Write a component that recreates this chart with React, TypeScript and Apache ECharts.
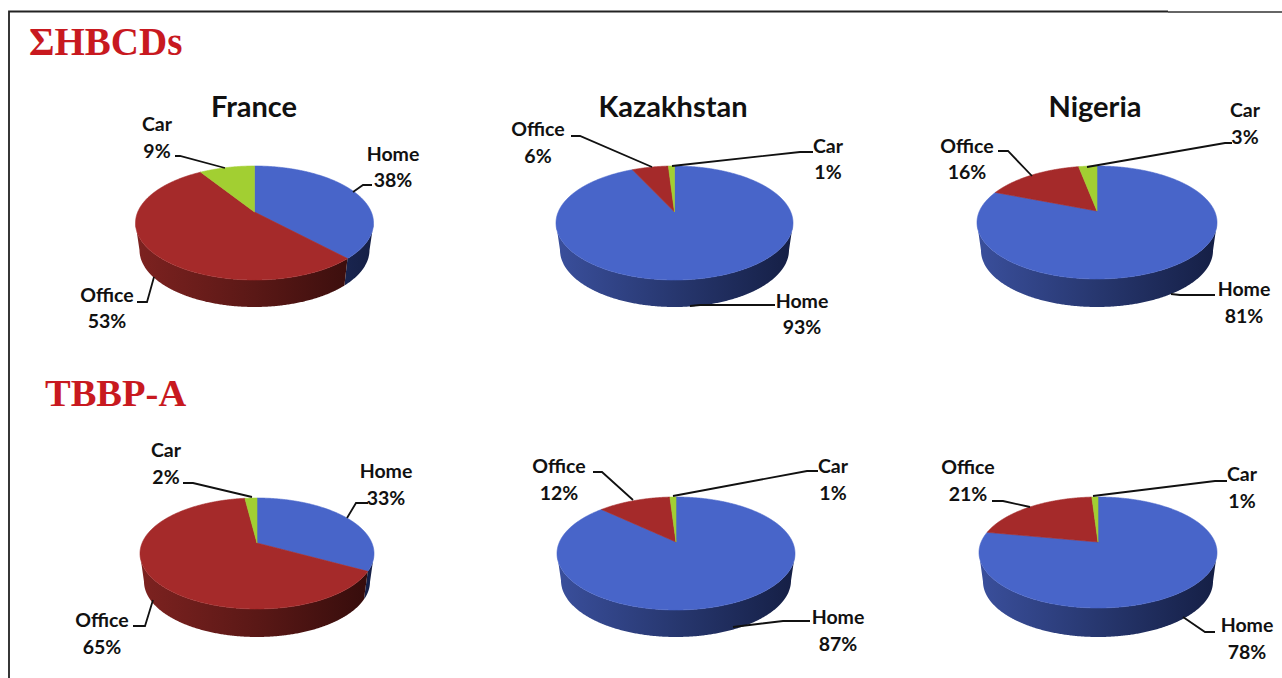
import React, { useEffect, useRef } from "react";
import * as echarts from "echarts";

const WIDTH = 1282;
const HEIGHT = 678;

const sources = ["Home", "Office", "Car"];
const franceHbcd = [38, 53, 9];
const kazakhstanHbcd = [93, 6, 1];
const nigeriaHbcd = [81, 16, 3];
const franceTbbp = [33, 65, 2];
const kazakhstanTbbp = [87, 12, 1];
const nigeriaTbbp = [78, 21, 1];
const countries = ["France", "Kazakhstan", "Nigeria"];
const groupTitles = ["ΣHBCDs", "TBBP-A"];

const TOP_COLORS = ["#4865c9", "#a52a2a", "#a2cf32"];
const SIDE_STOPS = [
  ["#3a4f9c", "#27376f", "#151f45"],
  ["#7d2220", "#5a1816", "#340c0b"],
  ["#6d8a22", "#50661a", "#324010"],
];

type Pie = {
  values: number[];
  cx: number; rx: number; top: number; bottom: number; tipY: number; sideBottom: number;
  labels: { x: number; y: number; line: number[][] }[];
};

const pies: Pie[] = [
  {
    values: franceHbcd, cx: 254.5, rx: 119, top: 166, bottom: 280, tipY: 212, sideBottom: 307,
    labels: [
      { x: 393, y: 166.5, line: [[372, 185], [363, 185], [353, 192]] },
      { x: 107, y: 307.5, line: [[137, 302], [147, 302], [154, 277]] },
      { x: 157, y: 137, line: [[175, 156], [180, 156], [225, 168]] },
    ],
  },
  {
    values: kazakhstanHbcd, cx: 674.5, rx: 118.5, top: 166, bottom: 280, tipY: 212, sideBottom: 307,
    labels: [
      { x: 802, y: 313.5, line: [[775, 305], [700, 305], [690, 306]] },
      { x: 538, y: 142, line: [[571, 136], [580, 136], [652, 167]] },
      { x: 828, y: 158.5, line: [[813, 152], [800, 152], [672, 166]] },
    ],
  },
  {
    values: nigeriaHbcd, cx: 1097, rx: 120, top: 166, bottom: 279, tipY: 211, sideBottom: 307,
    labels: [
      { x: 1244, y: 302, line: [[1215, 295], [1180, 295], [1171, 294]] },
      { x: 967, y: 158.5, line: [[998, 151], [1008, 151], [1032, 176]] },
      { x: 1245, y: 123, line: [[1232, 143], [1225, 143], [1087, 167]] },
    ],
  },
  {
    values: franceTbbp, cx: 257, rx: 117, top: 498, bottom: 609, tipY: 543, sideBottom: 637,
    labels: [
      { x: 386, y: 484, line: [[368, 503], [356, 503], [347, 518]] },
      { x: 102, y: 633, line: [[133, 626], [145, 626], [153, 600]] },
      { x: 166, y: 463, line: [[183, 483], [193, 483], [252, 497]] },
    ],
  },
  {
    values: kazakhstanTbbp, cx: 676, rx: 119, top: 497, bottom: 610, tipY: 542, sideBottom: 637,
    labels: [
      { x: 838, y: 630, line: [[810, 621], [783, 621], [733, 627]] },
      { x: 559, y: 479, line: [[593, 472], [602, 472], [633, 500]] },
      { x: 833, y: 479, line: [[818, 471], [807, 471], [673, 496]] },
    ],
  },
  {
    values: nigeriaTbbp, cx: 1098, rx: 119, top: 497, bottom: 608, tipY: 542, sideBottom: 637,
    labels: [
      { x: 1247, y: 638, line: [[1215, 632], [1205, 632], [1183, 617]] },
      { x: 968, y: 480, line: [[992, 501], [1003, 501], [1030, 507]] },
      { x: 1242, y: 487, line: [[1227, 481], [1215, 481], [1093, 496]] },
    ],
  },
];

const TAPER = 4;

// Perspective view of a pie: the circle's rim is moved by the projective map that
// sends the pie's centre to the visible slice tip.
function rimPoint(p: Pie, deg: number) {
  const ry = (p.bottom - p.top) / 2;
  const cy = (p.bottom + p.top) / 2;
  const e = (cy - p.tipY) / ry;
  const k = e === 0 ? 0 : (1 - Math.sqrt(1 - e * e)) / e;
  const t = (deg * Math.PI) / 180;
  const re = Math.sin(t);
  const im = Math.cos(t);
  // w = (z + ik) / (1 - ik z), z = re + i im
  const nr = re;
  const ni = im + k;
  const dr = 1 + k * im;
  const di = -k * re;
  const d = dr * dr + di * di;
  const wr = (nr * dr + ni * di) / d;
  const wi = (ni * dr - nr * di) / d;
  return [p.cx + p.rx * wr, cy - ry * wi];
}

function renderSlice(p: Pie) {
  return (params: any, api: any) => {
    const i = params.dataIndex;
    const total = p.values.reduce((s, v) => s + v, 0);
    const before = p.values.slice(0, i).reduce((s, v) => s + v, 0);
    const start = (before / total) * 360;
    const end = ((before + api.value(0)) / total) * 360;
    const ry = (p.bottom - p.top) / 2;
    const cy = (p.bottom + p.top) / 2;
    const rxB = p.rx - TAPER;
    const cyB = p.sideBottom - ry;

    const rim: number[][] = [];
    const steps = Math.max(2, Math.ceil((end - start) * 2));
    for (let s = 0; s <= steps; s++) rim.push(rimPoint(p, start + ((end - start) * s) / steps));

    const frontTop = rim.filter((q) => q[1] >= cy);
    const children: any[] = [];
    if (frontTop.length > 1) {
      const frontBottom = frontTop
        .map((q) => {
          const sx = (q[0] - p.cx) / p.rx;
          const sy = (q[1] - cy) / ry;
          return [p.cx + rxB * sx, cyB + ry * sy];
        })
        .reverse();
      const stops = SIDE_STOPS[i];
      children.push({
        type: "polygon",
        shape: { points: frontTop.concat(frontBottom) },
        style: {
          fill: new echarts.graphic.LinearGradient(
            p.cx - p.rx, 0, p.cx + p.rx, 0,
            [
              { offset: 0, color: stops[0] },
              { offset: 0.5, color: stops[1] },
              { offset: 1, color: stops[2] },
            ],
            true,
          ),
          stroke: null,
        },
      });
    }
    children.push({
      type: "polygon",
      shape: { points: [[p.cx, p.tipY], ...rim] },
      style: { fill: TOP_COLORS[i], stroke: TOP_COLORS[i], lineWidth: 0.6 },
    });
    const lab = p.labels[i];
    children.push({
      type: "polyline",
      shape: { points: lab.line },
      style: { fill: "none", stroke: "#111", lineWidth: 1.8 },
      z2: 5,
    });
    children.push({
      type: "text",
      z2: 6,
      style: {
        text: `${sources[i]}\n${api.value(0)}%`,
        x: lab.x,
        y: lab.y,
        align: "center",
        verticalAlign: "middle",
        fontFamily: "Lato",
        fontWeight: "bold",
        fontSize: 19.5,
        lineHeight: 26.5,
        fill: "#111",
      },
    });
    return { type: "group", children };
  };
}

export default function App() {
  const ref = useRef<HTMLDivElement>(null);
  useEffect(() => {
    const chart = echarts.init(ref.current!, undefined, { renderer: "svg" });
    const titleCenters = [254, 673, 1095];
    chart.setOption({
      animation: false,
      backgroundColor: "#ffffff",
      title: [
        ...countries.map((c, i) => ({
          text: c,
          left: titleCenters[i],
          top: 91,
          padding: 0,
          textAlign: "center",
          textStyle: { fontFamily: "Lato", fontWeight: "bold", fontSize: 29, color: "#111" },
        })),
        {
          text: groupTitles[0], left: 29, top: 22, padding: 0,
          textStyle: { fontFamily: "Liberation Serif", fontWeight: "bold", fontSize: 39, color: "#c8191f" },
        },
        {
          text: groupTitles[1], left: 45, top: 373, padding: 0,
          textStyle: { fontFamily: "Liberation Serif", fontWeight: "bold", fontSize: 38.5, color: "#c8191f" },
        },
      ],
      graphic: [
        { type: "polyline", shape: { points: [[9, 678], [9, 11.5], [1168, 11.5]] }, style: { fill: "none", stroke: "#222", lineWidth: 1.8 } },
        { type: "line", shape: { x1: 1168, y1: 12, x2: 1282, y2: 12 }, style: { stroke: "#333", lineWidth: 1.5 } },
      ],
      series: pies.map((p) => ({
        type: "custom",
        coordinateSystem: "none",
        silent: true,
        clip: false,
        data: p.values.map((v, i) => ({ name: sources[i], value: [v] })),
        renderItem: renderSlice(p),
      })),
    });
    return () => chart.dispose();
  }, []);
  return <div ref={ref} style={{ position: "fixed", left: 0, top: 0, width: WIDTH, height: HEIGHT }} />;
}
